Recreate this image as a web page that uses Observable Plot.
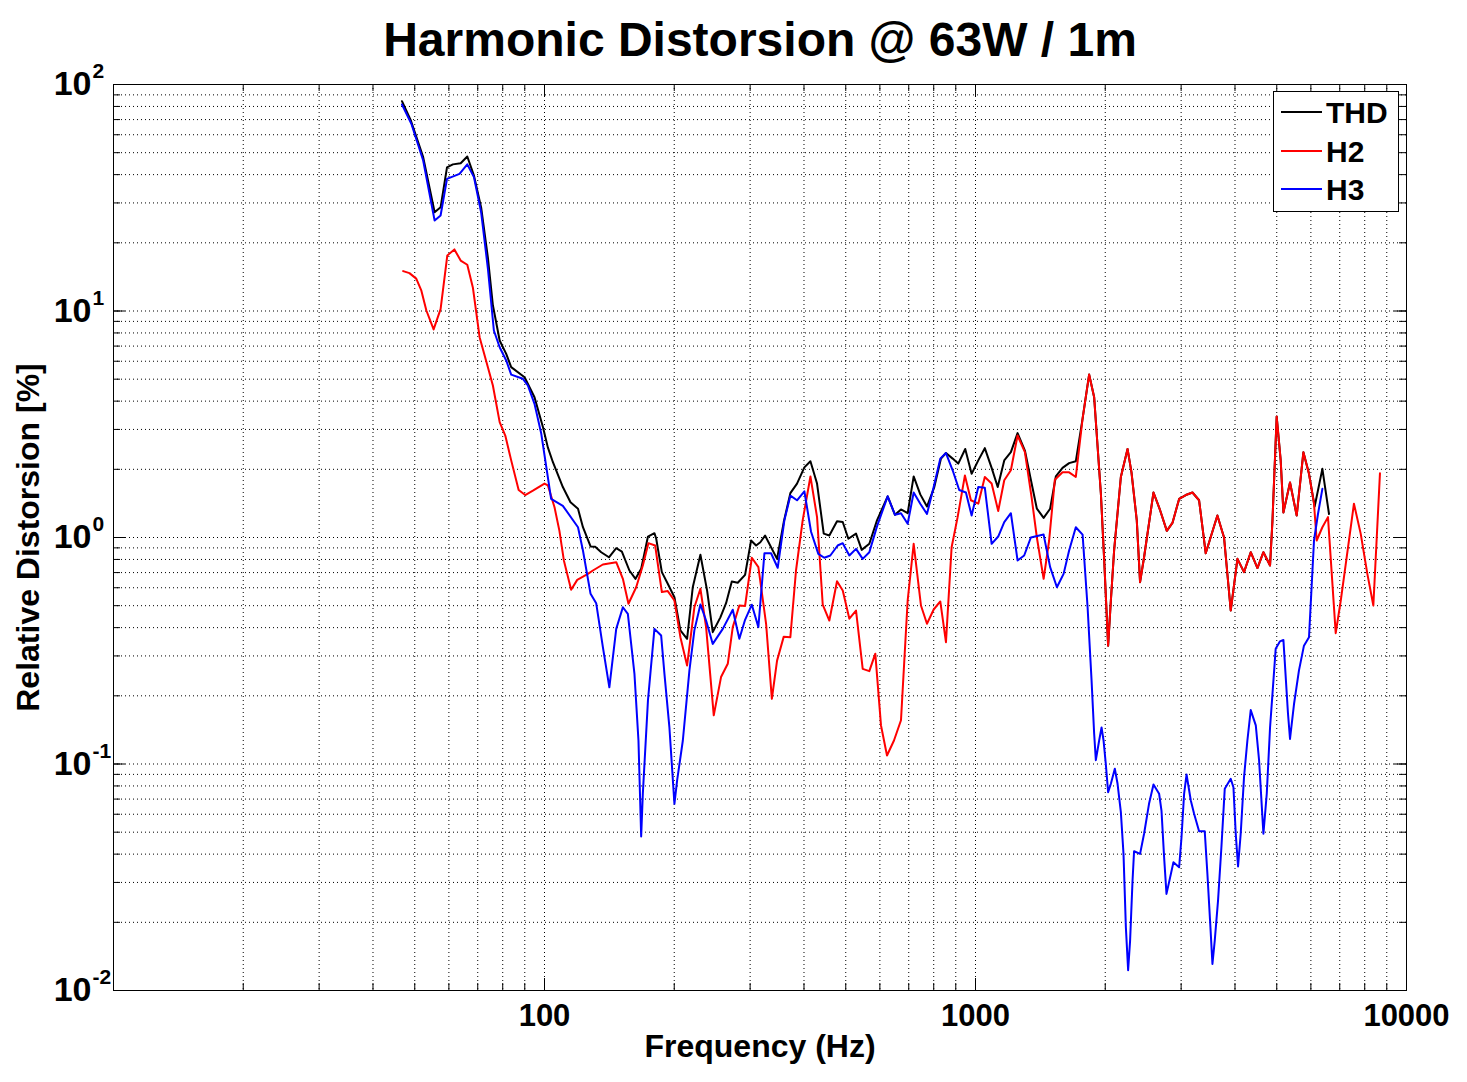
<!DOCTYPE html>
<html><head><meta charset="utf-8">
<script src="https://cdn.jsdelivr.net/npm/d3@7"></script>
<script src="https://cdn.jsdelivr.net/npm/@observablehq/plot@0.6"></script>
<style>body{margin:0;background:#fff;} svg{overflow:visible}</style>
</head><body><div id="chart"></div>
<script>
// ---- data (frequency in Hz, distortion in %) ----
const thdFreq = [46.7,48.9,52.3,55.6,57.4,59.4,61.3,63.9,66.2,68.6,71.3,73.9,75.9,78.7,81.5,83.7,89.9,94.8,99.2,101.8,104.6,110.3,114.9,119.6,122.8,127.9,131.1,135.4,141.1,146.7,151.2,157.4,162.6,167.6,173.8,179.9,181.6,187.2,193.2,200.2,206.7,214.2,220.8,230.0,238.4,245.7,255.9,263.8,272.0,280.8,292.0,301.5,309.7,316.8,324.9,346.4,359.0,371.9,385.4,400.8,414.0,428.9,444.5,458.0,477.2,492.0,507.0,528.2,544.5,567.1,590.8,625.5,650.4,671.6,696.0,718.7,744.5,771.6,802.4,831.5,854.0,885.1,912.0,946.6,979.5,1015,1051,1090,1126,1166,1208,1252,1302,1340,1388,1439,1490,1536,1592,1649,1709,1772,1835,1885,1954,1989,2031,2061,2097,2174,2253,2301,2367,2409,2461,2588,2681,2779,2864,2968,3076,3187,3302,3421,3641,3773,3910,4053,4198,4351,4510,4656,4824,4887,4998,5106,5181,5367,5562,5765,5940,6122,6380,6610];
const thdVal = [84.4,69.8,47.8,27.3,28.7,43.1,44.4,44.9,48.1,39.6,28.6,17.2,10.6,7.41,6.47,5.65,5.10,4.16,3.07,2.50,2.15,1.67,1.43,1.34,1.11,0.913,0.910,0.861,0.818,0.897,0.867,0.715,0.657,0.727,1.01,1.045,0.99,0.703,0.625,0.545,0.389,0.357,0.603,0.839,0.583,0.382,0.444,0.513,0.639,0.631,0.684,0.970,0.922,0.953,1.02,0.805,1.17,1.57,1.73,2.04,2.17,1.73,1.04,1.02,1.18,1.17,0.987,1.04,0.882,0.938,1.19,1.52,1.26,1.33,1.28,1.86,1.55,1.37,1.67,2.23,2.36,2.23,2.12,2.46,1.91,2.19,2.48,2.03,1.67,2.19,2.38,2.89,2.42,1.85,1.34,1.22,1.34,1.86,2.03,2.13,2.17,3.35,5.24,4.16,1.56,0.792,0.333,0.527,0.876,1.85,2.46,1.94,1.19,0.635,0.818,1.58,1.32,1.07,1.16,1.48,1.54,1.58,1.46,0.852,1.25,1.00,0.476,0.805,0.703,0.861,0.733,0.861,0.752,1.19,3.42,2.19,1.29,1.75,1.25,2.38,1.91,1.37,2.01,1.27];

const h2Freq = [47.0,48.6,50.4,51.8,53.2,55.3,57.4,59.5,61.8,63.9,66.2,68.2,70.7,73.9,75.9,78.7,81.1,83.7,87.1,90.2,94.0,100,101.8,105.5,108.3,110.9,115.3,119.1,126.1,129.5,136.6,146.7,152.0,156.6,163.2,169.1,174.2,180.6,187.2,193.2,200.2,206.7,214.2,222.7,230.0,237.1,247.0,256.8,266.2,273.4,283.2,292.0,302.7,313.5,326.7,336.9,346.4,359.0,371.9,383.3,397.2,414.0,428.9,442.1,458.0,477.2,492.0,509.7,528.2,547.4,567.1,585.5,603.6,623.3,646.9,671.6,696.0,718.7,747.2,771.6,799.8,828.5,854.0,880.2,908.9,945.0,975.8,1015,1051,1090,1129,1166,1208,1252,1302,1349,1388,1439,1482,1528,1592,1649,1709,1772,1835,1885,1954,1989,2031,2061,2097,2174,2253,2301,2367,2409,2461,2588,2681,2779,2864,2968,3076,3187,3302,3421,3641,3773,3910,4053,4198,4351,4510,4656,4824,4887,4998,5106,5181,5367,5562,5765,5940,6101,6189,6380,6574,6851,7039,7264,7552,7829,8113,8377,8678];
const h2Val = [15.0,14.7,13.9,12.3,10.05,8.29,10.2,17.6,18.7,16.7,16.0,12.7,7.66,5.65,4.69,3.23,2.82,2.19,1.62,1.54,1.61,1.73,1.70,1.36,1.07,0.792,0.588,0.650,0.691,0.715,0.760,0.778,0.657,0.510,0.603,0.752,0.944,0.922,0.574,0.580,0.527,0.363,0.272,0.492,0.594,0.402,0.164,0.242,0.277,0.402,0.501,0.499,0.814,0.740,0.416,0.194,0.286,0.365,0.363,0.715,1.19,1.86,1.23,0.506,0.430,0.641,0.583,0.438,0.476,0.263,0.257,0.307,0.148,0.109,0.127,0.156,0.527,0.938,0.501,0.416,0.481,0.522,0.345,0.906,1.23,1.88,1.46,1.41,1.85,1.73,1.31,1.79,1.98,2.82,2.38,1.51,1.00,0.657,0.970,1.80,1.94,1.94,1.85,3.35,5.24,4.16,1.56,0.792,0.333,0.527,0.876,1.85,2.46,1.94,1.19,0.635,0.818,1.58,1.32,1.07,1.16,1.48,1.54,1.58,1.46,0.852,1.25,1.00,0.476,0.805,0.703,0.861,0.733,0.861,0.752,1.19,3.42,2.19,1.29,1.75,1.25,2.38,1.91,1.41,0.970,1.11,1.23,0.378,0.527,0.818,1.41,1.04,0.691,0.501,1.92];

const h3Freq = [46.7,49.1,52.3,55.6,57.4,59.4,63.5,66.2,68.6,71.3,73.9,76.3,78.7,81.5,83.7,89.1,91.5,94.8,98.3,101.0,103.6,110.3,119.6,122.8,127.9,131.8,136.6,141.4,146.7,152.0,156.1,161.7,165.2,167.6,169.1,173.8,179.9,186.5,189.8,194.9,200.2,203.1,209.4,216.9,222.7,230.0,237.1,245.7,259.2,273.4,283.2,292.0,302.7,313.5,323.8,335.5,347.6,360.2,371.9,385.4,400.8,415.4,431.8,445.9,460.4,478.9,492.0,509.7,528.2,547.4,567.1,590.8,625.5,650.4,671.6,696.0,718.7,744.5,771.6,799.8,828.5,854.0,885.1,916.7,950.1,979.5,1015,1051,1090,1129,1166,1208,1252,1297,1344,1439,1490,1545,1601,1649,1709,1772,1820,1859,1885,1902,1936,1961,1982,2006,2031,2061,2105,2136,2174,2205,2233,2260,2284,2314,2333,2409,2461,2527,2588,2667,2701,2739,2774,2813,2879,2968,3006,3048,3088,3159,3215,3302,3403,3452,3501,3546,3590,3654,3720,3787,3910,3967,4016,4066,4124,4198,4274,4351,4470,4549,4656,4740,4824,4887,4972,5087,5181,5309,5367,5483,5630,5782,5940,6101,6232,6380];
const h3Val = [81.6,67.1,46.2,25.1,26.4,38.3,40.3,44.4,39.0,27.2,15.4,8.20,6.92,6.05,5.24,5.02,4.69,3.89,2.87,2.04,1.48,1.38,1.11,0.876,0.564,0.513,0.328,0.218,0.395,0.492,0.460,0.250,0.127,0.0479,0.0739,0.191,0.395,0.369,0.250,0.145,0.0667,0.0846,0.127,0.259,0.389,0.506,0.430,0.339,0.395,0.480,0.357,0.433,0.505,0.402,0.852,0.852,0.735,1.19,1.53,1.46,1.60,1.06,0.847,0.814,0.833,0.922,0.944,0.833,0.891,0.805,0.861,1.12,1.52,1.26,1.28,1.15,1.58,1.41,1.27,1.67,2.23,2.36,1.98,1.62,1.58,1.25,1.67,1.66,0.938,1.01,1.17,1.28,0.792,0.833,1.00,1.03,0.740,0.603,0.691,0.876,1.11,1.03,0.492,0.234,0.136,0.104,0.127,0.145,0.127,0.100,0.0751,0.0818,0.0953,0.0818,0.0613,0.0401,0.0190,0.0123,0.0166,0.0306,0.0412,0.0401,0.0492,0.0667,0.0812,0.0739,0.0623,0.0388,0.0267,0.0301,0.0368,0.0350,0.0475,0.0739,0.0899,0.0690,0.0603,0.0505,0.0505,0.0327,0.0204,0.0131,0.0166,0.0250,0.0429,0.0777,0.0860,0.0790,0.0492,0.0353,0.0492,0.0875,0.127,0.173,0.148,0.104,0.0492,0.0739,0.145,0.204,0.323,0.348,0.353,0.167,0.129,0.184,0.259,0.333,0.363,0.970,1.27,1.64];

const seriesNames = ["THD", "H2", "H3"];
const seriesColors = ["#000000", "#ff0000", "#0000ff"];

const xTickLabels = [100, 1000, 10000];
const yTickValues = [0.01, 0.1, 1, 10, 100];
const yTickExponents = ["-2", "-1", "0", "1", "2"];
const xGrid = [20,30,40,50,60,70,80,90,100,200,300,400,500,600,700,800,900,1000,2000,3000,4000,5000,6000,7000,8000,9000];
const yGrid = [0.02,0.03,0.04,0.05,0.06,0.07,0.08,0.09,0.1,0.2,0.3,0.4,0.5,0.6,0.7,0.8,0.9,1,2,3,4,5,6,7,8,9,10,20,30,40,50,60,70,80,90];
const xMajor = [100, 1000];
const yMajor = [0.1, 1, 10];

const titleText = "Harmonic Distorsion @ 63W / 1m";
const xLabel = "Frequency (Hz)";
const yLabel = "Relative Distorsion [%]";

// ---- layout ----
const W = 1467, H = 1082, mt = 84, mb = 92, ml = 113, mr = 61;
const FH = H - mt - mb, FW = W - ml - mr;
const minorLen = 7, majorLen = 12;
const font = "'Liberation Sans', Arial, Helvetica, sans-serif";

const rows = (F, V) => F.map((f, i) => ({f, v: V[i]}));
const thd = rows(thdFreq, thdVal), h2 = rows(h2Freq, h2Val), h3 = rows(h3Freq, h3Val);

const dotted = {stroke: "#000", strokeWidth: 1, strokeDasharray: "1,3"};

const svg = Plot.plot({
  width: W, height: H,
  marginTop: mt, marginBottom: mb, marginLeft: ml, marginRight: mr,
  style: {fontFamily: font, background: "#fff", overflow: "visible"},
  x: {type: "log", domain: [10, 10000], axis: null},
  y: {type: "log", domain: [0.01, 100], axis: null},
  marks: [
    Plot.ruleX(xGrid, {x: d => d, ...dotted}),
    Plot.ruleY(yGrid, {y: d => d, ...dotted}),
    // inward tick marks on all four sides
    Plot.ruleX(xGrid, {x: d => d, stroke: "#000", insetTop: FH - minorLen}),
    Plot.ruleX(xGrid, {x: d => d, stroke: "#000", insetBottom: FH - minorLen}),
    Plot.ruleX(xMajor, {x: d => d, stroke: "#000", insetTop: FH - majorLen}),
    Plot.ruleX(xMajor, {x: d => d, stroke: "#000", insetBottom: FH - majorLen}),
    Plot.ruleY(yGrid, {y: d => d, stroke: "#000", insetRight: FW - minorLen}),
    Plot.ruleY(yGrid, {y: d => d, stroke: "#000", insetLeft: FW - minorLen}),
    Plot.ruleY(yMajor, {y: d => d, stroke: "#000", insetRight: FW - majorLen}),
    Plot.ruleY(yMajor, {y: d => d, stroke: "#000", insetLeft: FW - majorLen}),
    Plot.line(thd, {x: "f", y: "v", stroke: seriesColors[0], strokeWidth: 2}),
    Plot.line(h2, {x: "f", y: "v", stroke: seriesColors[1], strokeWidth: 2}),
    Plot.line(h3, {x: "f", y: "v", stroke: seriesColors[2], strokeWidth: 2}),
    Plot.frame({stroke: "#000", strokeWidth: 1}),
    // tick labels
    Plot.text(xTickLabels, {x: d => d, frameAnchor: "bottom", dy: 35, textAnchor: "middle", text: d => String(d), fontSize: 31, fontWeight: "bold", fill: "#000"}),
    Plot.text(yTickValues, {y: d => d, frameAnchor: "left", dx: -22, text: () => "10", textAnchor: "end", lineAnchor: "middle", fontSize: 34, fontWeight: "bold", fill: "#000"}),
    Plot.text(yTickValues, {y: d => d, frameAnchor: "left", dx: -21, dy: -13, text: (d, i) => yTickExponents[i], textAnchor: "start", lineAnchor: "middle", fontSize: 21, fontWeight: "bold", fill: "#000"}),
    // axis labels
    Plot.text([xLabel], {frameAnchor: "bottom", dy: 66, textAnchor: "middle", text: d => d, fontSize: 32, fontWeight: "bold", fill: "#000"}),
    Plot.text([yLabel], {frameAnchor: "left", dx: -85, rotate: -90, textAnchor: "middle", lineAnchor: "middle", text: d => d, fontSize: 32, fontWeight: "bold", fill: "#000"}),
    Plot.text([titleText], {frameAnchor: "top", dy: -63, textAnchor: "middle", text: d => d, fontSize: 48, fontWeight: "bold", fill: "#000"})
  ]
});

// legend box (inside plot, top-right)
const g = d3.select(svg).append("g").attr("font-family", font).attr("text-anchor", "start");
g.append("rect").attr("x", 1273.5).attr("y", 91.5).attr("width", 125).attr("height", 120)
  .attr("fill", "#fff").attr("stroke", "#000").attr("stroke-width", 1);
const rowsY = [112, 151, 189];
seriesNames.forEach((name, i) => {
  g.append("line").attr("x1", 1281).attr("x2", 1322).attr("y1", rowsY[i]).attr("y2", rowsY[i])
    .attr("stroke", seriesColors[i]).attr("stroke-width", 2);
  g.append("text").attr("x", 1326).attr("y", rowsY[i] + 10.5).attr("font-size", 30)
    .attr("text-anchor", "start").attr("font-weight", "bold").attr("fill", "#000").text(name);
});

document.getElementById("chart").appendChild(svg);
</script>
</body></html>
